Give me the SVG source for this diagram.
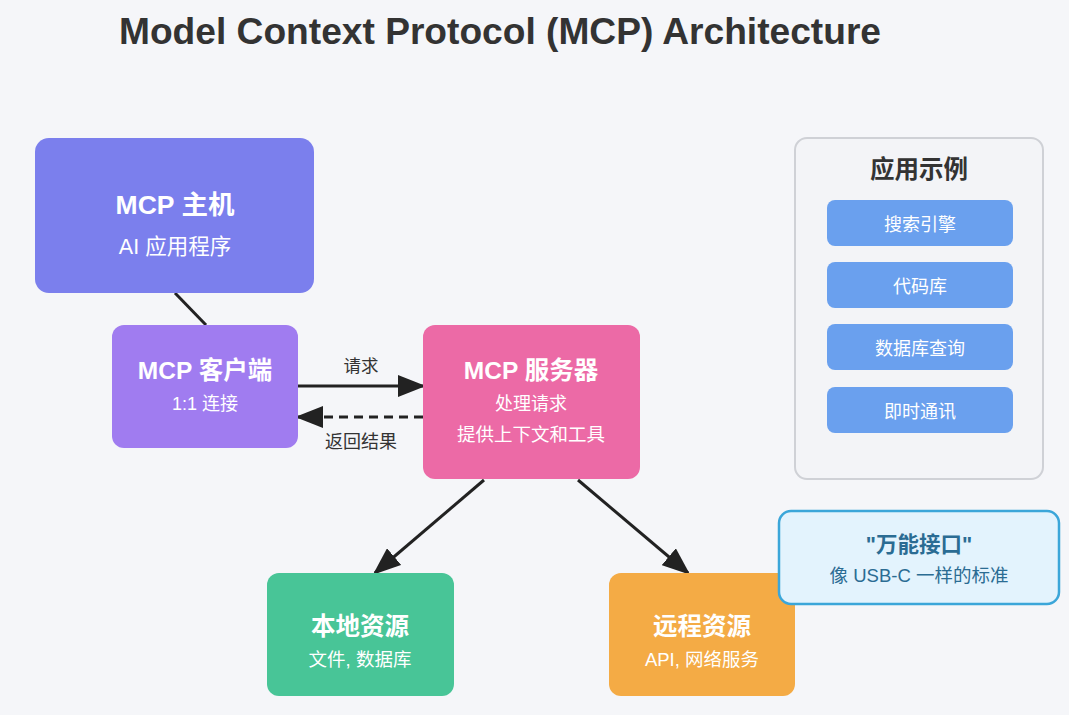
<svg xmlns="http://www.w3.org/2000/svg" width="1069" height="715" viewBox="0 0 1069 715">
<defs>
<style>
.t{font-family:"Liberation Sans","Noto Sans CJK SC",sans-serif;text-anchor:middle}
.h{font-weight:bold;fill:#fff}
.s{fill:#fff}
.lab{fill:#333}
.conn{stroke:#222;stroke-width:3;fill:none}
.item{fill:#6aa0ee}
</style>
<marker id="ab" viewBox="0 0 10 10" refX="9" refY="5" markerWidth="28" markerHeight="22" orient="auto" markerUnits="userSpaceOnUse" preserveAspectRatio="none">
<path d="M0,0 L10,5 L0,10 z" fill="#222"/>
</marker>
</defs>
<rect width="1069" height="715" fill="#f5f6f9"/>
<text class="t" x="500" y="44" font-size="37" font-weight="bold" fill="#333" textLength="762" lengthAdjust="spacingAndGlyphs">Model Context Protocol (MCP) Architecture</text>

<g id="connectors">
<line class="conn" x1="175" y1="293" x2="206" y2="325"/>
<line class="conn" x1="298" y1="386" x2="423" y2="386" marker-end="url(#ab)"/>
<line class="conn" x1="423" y1="417" x2="298" y2="417" stroke-dasharray="9,6" marker-end="url(#ab)"/>
<text class="t lab" x="361" y="372" font-size="17.5">请求</text>
<text class="t lab" x="361" y="448" font-size="18">返回结果</text>
<line class="conn" x1="484" y1="480" x2="375" y2="573" marker-end="url(#ab)"/>
<line class="conn" x1="578" y1="480" x2="688" y2="573" marker-end="url(#ab)"/>
</g>

<g id="host">
<rect x="35" y="138" width="279" height="155" rx="14" fill="#7b7fed"/>
<text class="t h" x="175" y="214" font-size="26.5">MCP 主机</text>
<text class="t s" x="175" y="254" font-size="21.5">AI 应用程序</text>
</g>

<g id="client">
<rect x="112" y="325" width="186" height="123" rx="12" fill="#a07cf0"/>
<text class="t h" x="205" y="379" font-size="24.5">MCP 客户端</text>
<text class="t s" x="205" y="410" font-size="18">1:1 连接</text>
</g>

<g id="server">
<rect x="423" y="325" width="217" height="154" rx="12" fill="#ec6aa6"/>
<text class="t h" x="531" y="379" font-size="24.5">MCP 服务器</text>
<text class="t s" x="531" y="410" font-size="18">处理请求</text>
<text class="t s" x="531" y="441" font-size="18.5">提供上下文和工具</text>
</g>

<g id="local">
<rect x="267" y="573" width="187" height="123" rx="12" fill="#48c597"/>
<text class="t h" x="360" y="635" font-size="24.5">本地资源</text>
<text class="t s" x="360" y="666" font-size="18.5">文件, 数据库</text>
</g>

<g id="remote">
<rect x="609" y="573" width="186" height="123" rx="12" fill="#f4ab45"/>
<text class="t h" x="702" y="635" font-size="24.5">远程资源</text>
<text class="t s" x="702" y="666" font-size="18.5">API, 网络服务</text>
</g>

<g id="examples">
<rect x="795" y="138" width="248" height="341" rx="12" fill="#f3f4f7" stroke="#cfd1d6" stroke-width="2"/>
<text class="t" x="919" y="178" font-size="24.5" font-weight="bold" fill="#333">应用示例</text>
<rect class="item" x="827" y="200" width="186" height="46" rx="8"/>
<text class="t s" x="920" y="231" font-size="18">搜索引擎</text>
<rect class="item" x="827" y="262" width="186" height="46" rx="8"/>
<text class="t s" x="920" y="293" font-size="18">代码库</text>
<rect class="item" x="827" y="324" width="186" height="46" rx="8"/>
<text class="t s" x="920" y="355" font-size="18">数据库查询</text>
<rect class="item" x="827" y="387" width="186" height="46" rx="8"/>
<text class="t s" x="920" y="418" font-size="18">即时通讯</text>
</g>

<g id="usb">
<rect x="779" y="511" width="280" height="93" rx="12" fill="#e3f3fd" stroke="#3ba6d9" stroke-width="2.5"/>
<text class="t" x="919" y="552" font-size="21.5" font-weight="bold" fill="#2b6c93">"万能接口"</text>
<text class="t" x="919" y="582" font-size="18.5" fill="#2b6c93">像 USB-C 一样的标准</text>
</g>
</svg>
